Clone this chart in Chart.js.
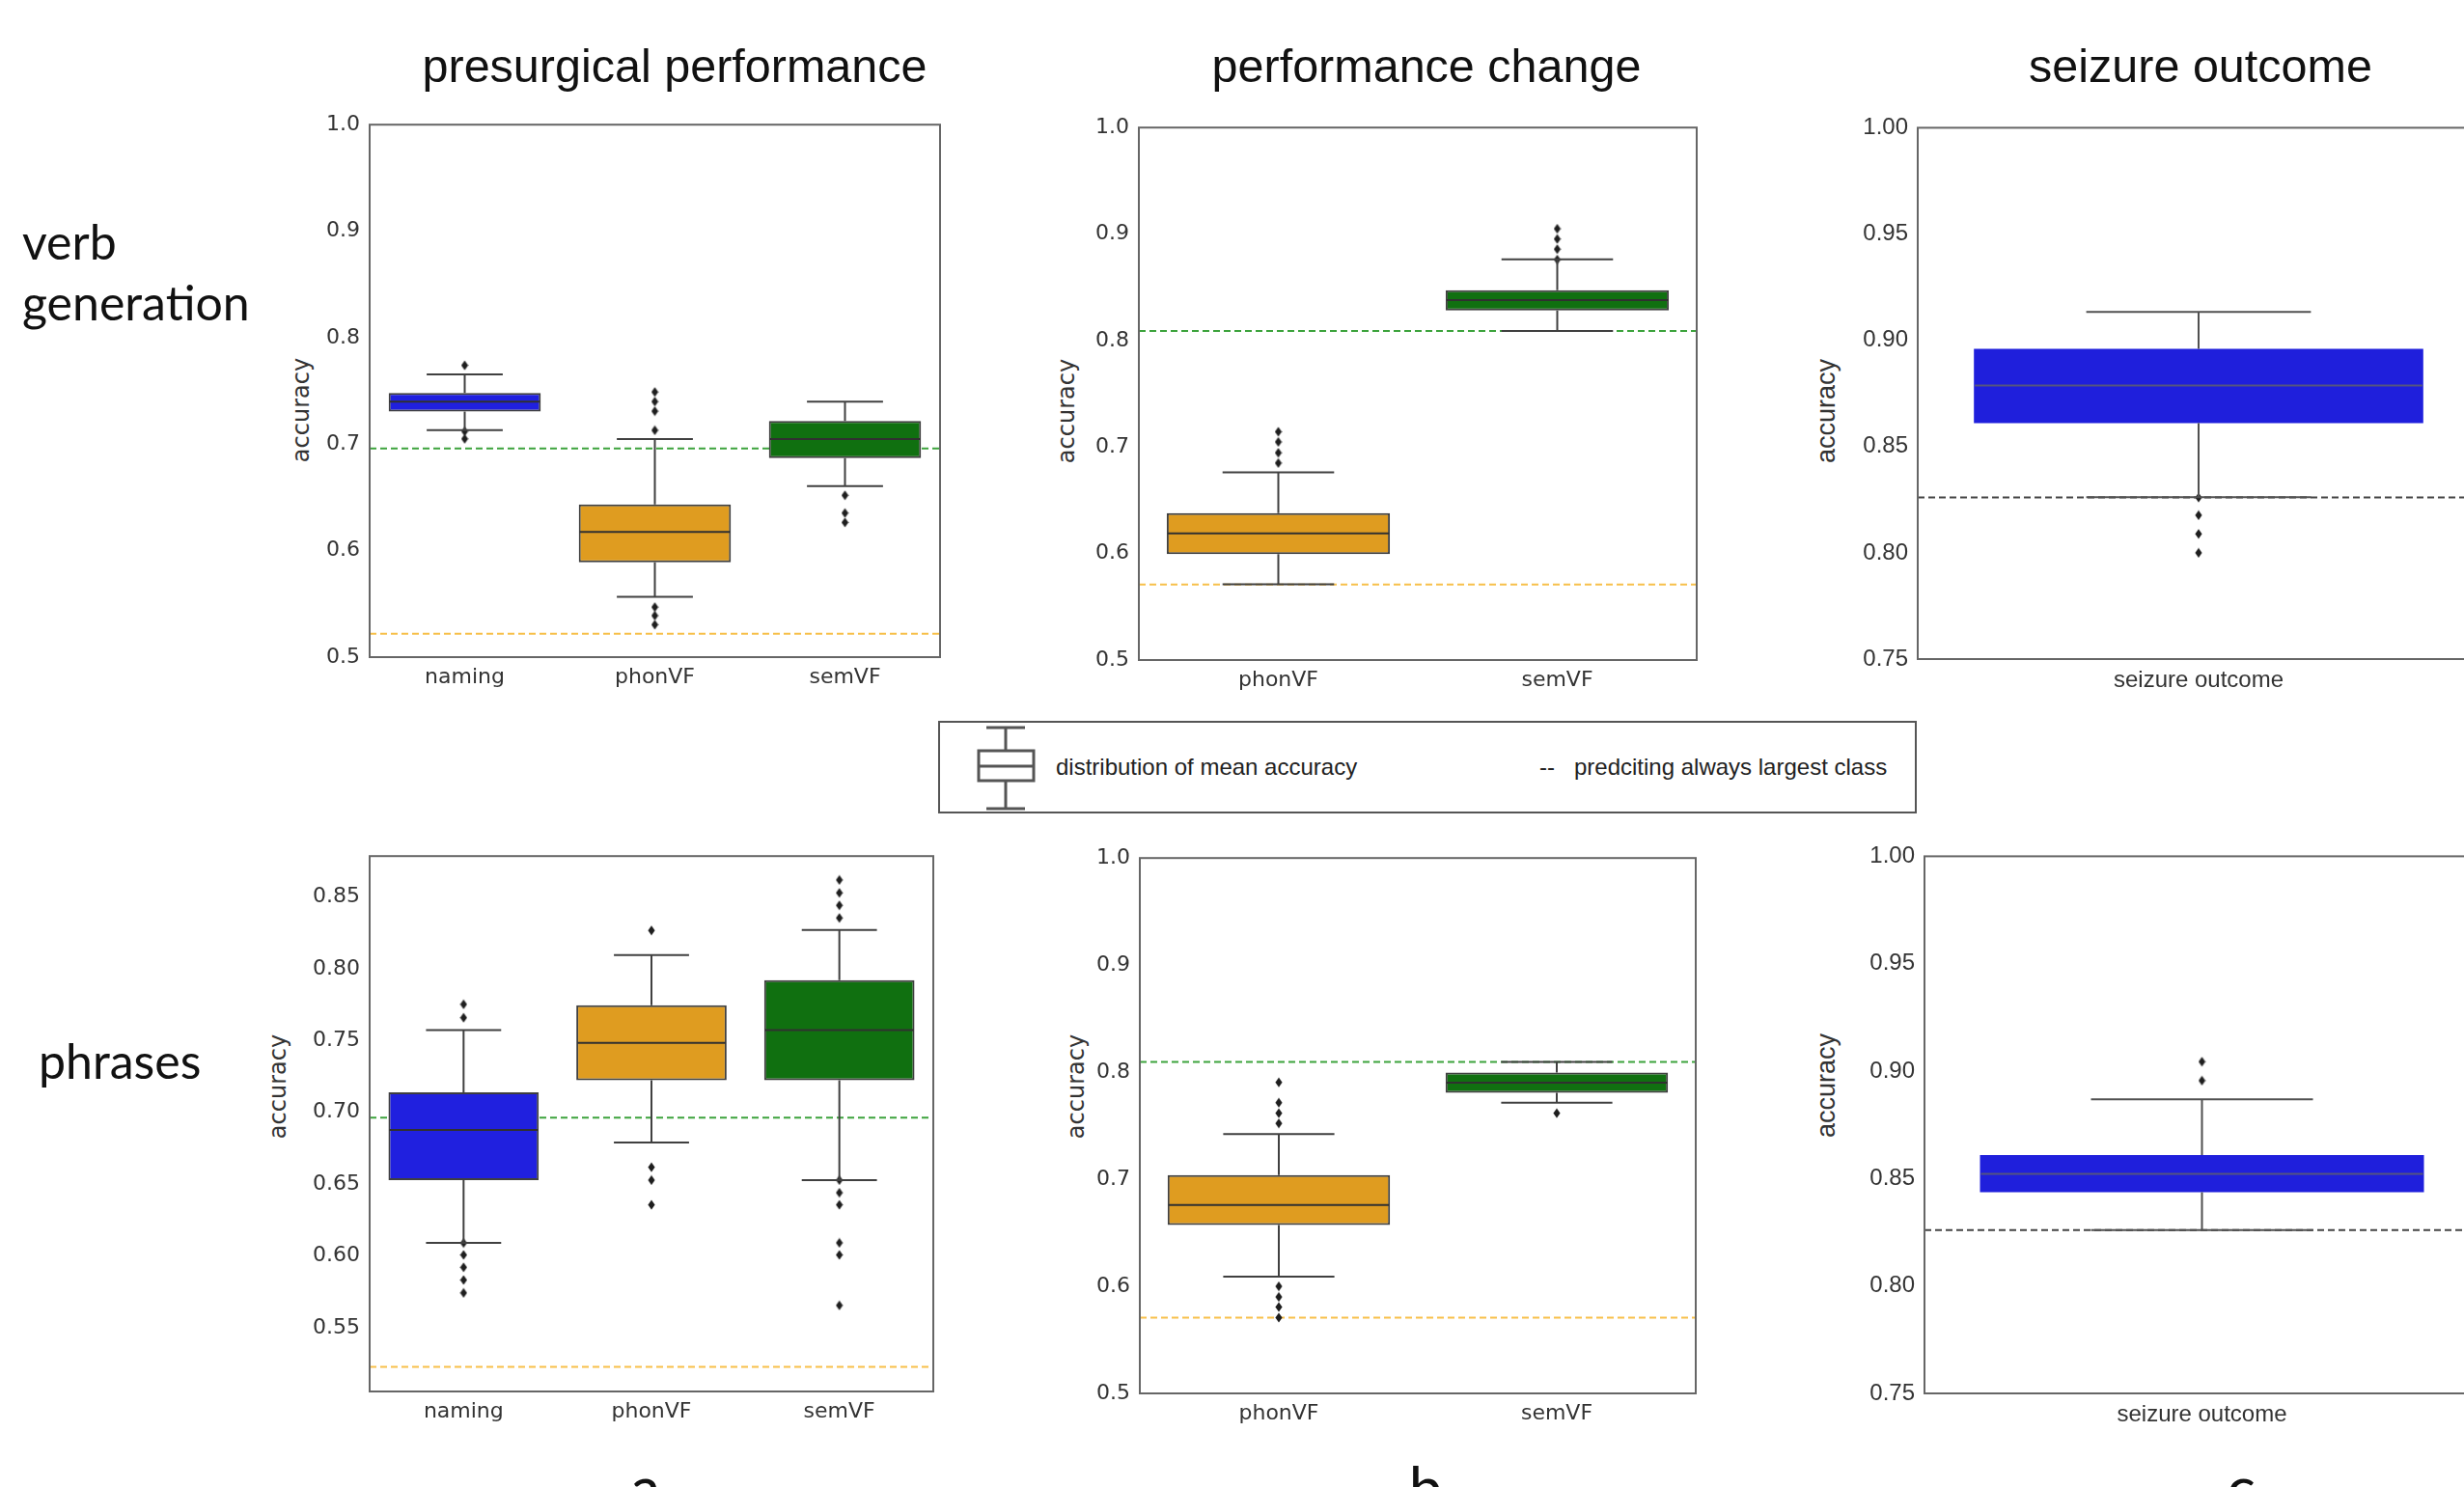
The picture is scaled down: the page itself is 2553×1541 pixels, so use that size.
<!DOCTYPE html>
<html><head><meta charset="utf-8">
<script src="https://cdn.jsdelivr.net/npm/chart.js@4.4.0/dist/chart.umd.min.js"></script>
<style>
html,body{margin:0;padding:0;background:#fff;}
body{width:2553px;height:1541px;overflow:hidden;position:relative;}
canvas{position:absolute;}
.t{position:absolute;white-space:nowrap;line-height:1;}
.ttl{font-family:"Liberation Sans",Arial,sans-serif;font-size:48.5px;color:#111;transform:translate(-50%,-50%);}
.row{font-family:Lato,"Open Sans",sans-serif;font-size:50px;color:#111;transform:translateY(-50%);}
.ylab{transform:translate(-50%,-50%) rotate(-90deg);color:#333;}
.dj{font-family:"DejaVu Sans",sans-serif;font-size:24px;}
.lb{font-family:"Liberation Sans",Arial,sans-serif;font-size:27px;}
.let{font-family:Lato,"Open Sans",sans-serif;font-size:62px;color:#111;transform:translateX(-50%);}
#legend{position:absolute;left:972px;top:747px;width:1014px;height:96px;border:2px solid #555;box-sizing:border-box;}
.lg{font-family:"Liberation Sans",Arial,sans-serif;font-size:24px;color:#222;transform:translateY(-50%);}
</style></head><body>

<!-- column titles -->
<div class="t ttl" style="left:699px;top:68px;">presurgical performance</div>
<div class="t ttl" style="left:1478px;top:68px;">performance change</div>
<div class="t ttl" style="left:2280px;top:68px;">seizure outcome</div>

<!-- row labels -->
<div class="t row" style="left:23px;top:250px;">verb</div>
<div class="t row" style="left:23px;top:313px;">generation</div>
<div class="t row" style="left:40px;top:1099px;">phrases</div>

<!-- y axis titles -->
<div class="t ylab dj" style="left:312px;top:425px;">accuracy</div>
<div class="t ylab dj" style="left:1105px;top:426px;">accuracy</div>
<div class="t ylab lb" style="left:1892px;top:426px;">accuracy</div>
<div class="t ylab dj" style="left:288px;top:1126px;">accuracy</div>
<div class="t ylab dj" style="left:1115px;top:1126px;">accuracy</div>
<div class="t ylab lb" style="left:1892px;top:1125px;">accuracy</div>

<canvas id="cTL"></canvas>
<canvas id="cTM"></canvas>
<canvas id="cTR"></canvas>
<canvas id="cBL"></canvas>
<canvas id="cBM"></canvas>
<canvas id="cBR"></canvas>

<!-- legend -->
<div id="legend"></div>
<svg style="position:absolute;left:1005px;top:750px;" width="80" height="92">
  <g stroke="#555" stroke-width="3" fill="none">
    <line x1="37" y1="4" x2="37" y2="28"/>
    <line x1="37" y1="59" x2="37" y2="88"/>
    <line x1="17" y1="4" x2="57" y2="4"/>
    <line x1="17" y1="88" x2="57" y2="88"/>
    <rect x="9" y="28" width="57" height="31" fill="#fff"/>
    <line x1="9" y1="44" x2="66" y2="44"/>
  </g>
</svg>
<div class="t lg" style="left:1094px;top:795px;">distribution of mean accuracy</div>
<div class="t lg" style="left:1595px;top:795px;">--</div>
<div class="t lg" style="left:1631px;top:795px;">predciting always largest class</div>

<!-- panel letters -->
<div class="t let" style="left:669px;top:1510px;">a</div>
<div class="t let" style="left:1477px;top:1510px;">b</div>
<div class="t let" style="left:2322px;top:1510px;">c</div>

<script>
// ---------------- DATA ----------------
// presurgical performance (a), verb generation
const vgPreCats = ['naming', 'phonVF', 'semVF'];
const vgPreQ1   = [0.7305, 0.589, 0.687];
const vgPreMed  = [0.740, 0.6176, 0.7048];
const vgPreQ3   = [0.748, 0.6434, 0.7217];
const vgPreLo   = [0.7132, 0.5566, 0.6607];
const vgPreHi   = [0.7654, 0.7048, 0.740];
const vgPreOut  = [[0.774, 0.712, 0.705], [0.749, 0.740, 0.731, 0.713, 0.547, 0.539, 0.5305], [0.652, 0.6353, 0.6265]];
const vgPreChance = [0.696, 0.522];
const vgPreTicks  = [0.5, 0.6, 0.7, 0.8, 0.9, 1.0];

// performance change (b), verb generation
const vgChgCats = ['phonVF', 'semVF'];
const vgChgQ1   = [0.5995, 0.8282];
const vgChgMed  = [0.619, 0.838];
const vgChgQ3   = [0.638, 0.8473];
const vgChgLo   = [0.5712, 0.809];
const vgChgHi   = [0.6762, 0.8763];
const vgChgOut  = [[0.685, 0.6946, 0.7048, 0.7144], [0.876, 0.8858, 0.8954, 0.905]];
const vgChgChance = [0.809, 0.571];
const vgChgTicks  = [0.5, 0.6, 0.7, 0.8, 0.9, 1.0];

// seizure outcome (c), verb generation
const vgSzCats = ['seizure outcome'];
const vgSzQ1   = [0.861];
const vgSzMed  = [0.8787];
const vgSzQ3   = [0.896];
const vgSzLo   = [0.8262];
const vgSzHi   = [0.9133];
const vgSzOut  = [[0.826, 0.8177, 0.8089, 0.800]];
const vgSzChance = [0.826];
const vgSzTicks  = [0.75, 0.80, 0.85, 0.90, 0.95, 1.00];

// presurgical performance (a), phrases
const phPreCats = ['naming', 'phonVF', 'semVF'];
const phPreQ1   = [0.6528, 0.7223, 0.7223];
const phPreMed  = [0.6877, 0.7485, 0.7573];
const phPreQ3   = [0.7139, 0.7747, 0.7922];
const phPreLo   = [0.6091, 0.679, 0.6528];
const phPreHi   = [0.7573, 0.8096, 0.8271];
const phPreOut  = [[0.7753, 0.766, 0.609, 0.6007, 0.592, 0.5832, 0.5742],
                   [0.8268, 0.6618, 0.6528, 0.6356],
                   [0.862, 0.853, 0.8443, 0.8355, 0.6528, 0.644, 0.6356, 0.6091, 0.6007, 0.5655]];
const phPreChance = [0.6964, 0.5227];
const phPreTicks  = [0.55, 0.60, 0.65, 0.70, 0.75, 0.80, 0.85];

// performance change (b), phrases
const phChgCats = ['phonVF', 'semVF'];
const phChgQ1   = [0.6573, 0.7807];
const phChgMed  = [0.6759, 0.7901];
const phChgQ3   = [0.704, 0.7996];
const phChgLo   = [0.609, 0.7715];
const phChgHi   = [0.7423, 0.8095];
const phChgOut  = [[0.7905, 0.7715, 0.7617, 0.7522, 0.600, 0.5901, 0.5807, 0.5708], [0.7617]];
const phChgChance = [0.8095, 0.5708];
const phChgTicks  = [0.5, 0.6, 0.7, 0.8, 0.9, 1.0];

// seizure outcome (c), phrases
const phSzCats = ['seizure outcome'];
const phSzQ1   = [0.8436];
const phSzMed  = [0.8522];
const phSzQ3   = [0.8609];
const phSzLo   = [0.826];
const phSzHi   = [0.8869];
const phSzOut  = [[0.9044, 0.8956]];
const phSzChance = [0.826];
const phSzTicks  = [0.75, 0.80, 0.85, 0.90, 0.95, 1.00];

// ---------------- STYLE ----------------
const BLUE = '#2020df', ORANGE = '#df9c20', GREEN = '#107010';
const colorOf = {naming: BLUE, phonVF: ORANGE, semVF: GREEN, 'seizure outcome': '#1f1fdc'};
const chanceGreen = '#3da33d', chanceOrange = '#f7c04a', chanceGray = '#444';

function diamond() {
  const c = document.createElement('canvas');
  c.width = 8; c.height = 11;
  const g = c.getContext('2d');
  g.fillStyle = '#1e1e1e';
  g.beginPath(); g.moveTo(4, 0.5); g.lineTo(7.6, 5.5); g.lineTo(4, 10.5); g.lineTo(0.4, 5.5); g.closePath(); g.fill();
  return c;
}
const DIAMOND = diamond();

const PADL = 80, PADT = 20, PADR = 20, PADB = 50;

function panel(id, frame, cats, q1, med, q3, lo, hi, out, chance, chanceColors, ticks, yMin, yMax, dec, st) {
  const cv = document.getElementById(id);
  const W = frame.R - frame.L + PADL + PADR, H = frame.B - frame.T + PADT + PADB;
  cv.width = W; cv.height = H;
  cv.style.left = (frame.L - PADL) + 'px';
  cv.style.top = (frame.T - PADT) + 'px';
  cv.style.width = W + 'px'; cv.style.height = H + 'px';

  const outPts = [];
  out.forEach((arr, i) => arr.forEach(v => outPts.push({x: cats[i], y: v})));

  const plug = {
    id: 'box_' + id,
    beforeDatasetsDraw(chart) {
      const a = chart.chartArea, y = chart.scales.y, ctx = chart.ctx;
      ctx.save();
      ctx.beginPath(); ctx.rect(a.left, a.top, a.right - a.left, a.bottom - a.top); ctx.clip();
      chance.forEach((v, i) => {
        const py = y.getPixelForValue(v);
        ctx.strokeStyle = chanceColors[i]; ctx.lineWidth = 2; ctx.setLineDash([7, 4]);
        ctx.beginPath(); ctx.moveTo(a.left, py); ctx.lineTo(a.right, py); ctx.stroke();
      });
      ctx.restore();
    },
    afterDatasetsDraw(chart) {
      const a = chart.chartArea, x = chart.scales.x, y = chart.scales.y, ctx = chart.ctx;
      const cw = (a.right - a.left) / cats.length;
      ctx.save();
      ctx.lineCap = 'butt';
      cats.forEach((c, i) => {
        const cx = x.getPixelForValue(i);
        ctx.strokeStyle = st.whisker; ctx.lineWidth = 2;
        ctx.beginPath();
        ctx.moveTo(cx, y.getPixelForValue(q3[i])); ctx.lineTo(cx, y.getPixelForValue(hi[i]));
        ctx.moveTo(cx, y.getPixelForValue(q1[i])); ctx.lineTo(cx, y.getPixelForValue(lo[i]));
        ctx.moveTo(cx - 0.2 * cw, y.getPixelForValue(hi[i])); ctx.lineTo(cx + 0.2 * cw, y.getPixelForValue(hi[i]));
        ctx.moveTo(cx - 0.2 * cw, y.getPixelForValue(lo[i])); ctx.lineTo(cx + 0.2 * cw, y.getPixelForValue(lo[i]));
        ctx.stroke();
        ctx.strokeStyle = st.median; ctx.lineWidth = 2;
        ctx.beginPath();
        ctx.moveTo(cx - 0.4 * cw + 1, y.getPixelForValue(med[i])); ctx.lineTo(cx + 0.4 * cw - 1, y.getPixelForValue(med[i]));
        ctx.stroke();
      });
      ctx.restore();
    },
    afterDraw(chart) {
      const a = chart.chartArea, ctx = chart.ctx;
      ctx.save(); ctx.strokeStyle = '#666'; ctx.lineWidth = 2;
      ctx.strokeRect(a.left, a.top, a.right - a.left, a.bottom - a.top);
      ctx.restore();
    }
  };

  return new Chart(cv, {
    type: 'bar',
    data: {
      labels: cats,
      datasets: [
        {
          type: 'bar',
          data: cats.map((c, i) => [q1[i], q3[i]]),
          backgroundColor: cats.map(c => colorOf[c]),
          borderColor: st.boxBorder,
          borderWidth: st.boxBorderWidth,
          borderSkipped: false,
          barPercentage: 0.8,
          categoryPercentage: 1.0,
          grouped: false
        },
        {
          type: 'line',
          data: outPts,
          showLine: false,
          pointStyle: DIAMOND,
          pointRadius: 5,
          pointHoverRadius: 5
        }
      ]
    },
    options: {
      responsive: false,
      animation: false,
      events: [],
      layout: {padding: {left: 0, top: PADT, right: PADR, bottom: 0}},
      plugins: {legend: {display: false}, tooltip: {enabled: false}},
      scales: {
        x: {
          type: 'category',
          grid: {display: false, drawTicks: false},
          border: {display: false},
          ticks: {font: {family: st.font, size: st.xSize}, color: '#333', padding: 8, autoSkip: false, maxRotation: 0},
          afterFit(s) { s.height = PADB; }
        },
        y: {
          type: 'linear',
          min: yMin, max: yMax,
          grid: {display: false, drawTicks: false},
          border: {display: false},
          ticks: {font: {family: st.font, size: st.ySize}, color: '#333', padding: 10, autoSkip: false,
                  callback: v => Number(v).toFixed(dec)},
          afterBuildTicks(s) { s.ticks = ticks.map(v => ({value: v})); },
          afterFit(s) { s.width = PADL; }
        }
      }
    },
    plugins: [plug]
  });
}

const stL = {font: '"DejaVu Sans"', xSize: 22, ySize: 22, boxBorder: '#3f3f3f', boxBorderWidth: 2, whisker: '#404040', median: '#303030'};
const stR = {font: '"Liberation Sans"', xSize: 24, ySize: 24, boxBorder: '#1f1fdc', boxBorderWidth: 0, whisker: '#505050', median: 'rgba(95,95,110,0.85)'};

panel('cTL', {L: 383, T: 126, R: 974, B: 681}, vgPreCats, vgPreQ1, vgPreMed, vgPreQ3, vgPreLo, vgPreHi, vgPreOut,
      vgPreChance, [chanceGreen, chanceOrange], vgPreTicks, 0.5, 1.0, 1, stL);
panel('cTM', {L: 1180, T: 129, R: 1758, B: 684}, vgChgCats, vgChgQ1, vgChgMed, vgChgQ3, vgChgLo, vgChgHi, vgChgOut,
      vgChgChance, [chanceGreen, chanceOrange], vgChgTicks, 0.5, 1.0, 1, stL);
panel('cTR', {L: 1987, T: 128, R: 2569, B: 683}, vgSzCats, vgSzQ1, vgSzMed, vgSzQ3, vgSzLo, vgSzHi, vgSzOut,
      vgSzChance, [chanceGray], vgSzTicks, 0.75, 1.0, 2, stR);
panel('cBL', {L: 383, T: 884, R: 967, B: 1442}, phPreCats, phPreQ1, phPreMed, phPreQ3, phPreLo, phPreHi, phPreOut,
      phPreChance, [chanceGreen, chanceOrange], phPreTicks, 0.5055, 0.8786, 2, stL);
panel('cBM', {L: 1181, T: 886, R: 1757, B: 1444}, phChgCats, phChgQ1, phChgMed, phChgQ3, phChgLo, phChgHi, phChgOut,
      phChgChance, [chanceGreen, chanceOrange], phChgTicks, 0.5, 1.0, 1, stL);
panel('cBR', {L: 1994, T: 883, R: 2569, B: 1444}, phSzCats, phSzQ1, phSzMed, phSzQ3, phSzLo, phSzHi, phSzOut,
      phSzChance, [chanceGray], phSzTicks, 0.75, 1.0, 2, stR);
</script>
</body></html>
